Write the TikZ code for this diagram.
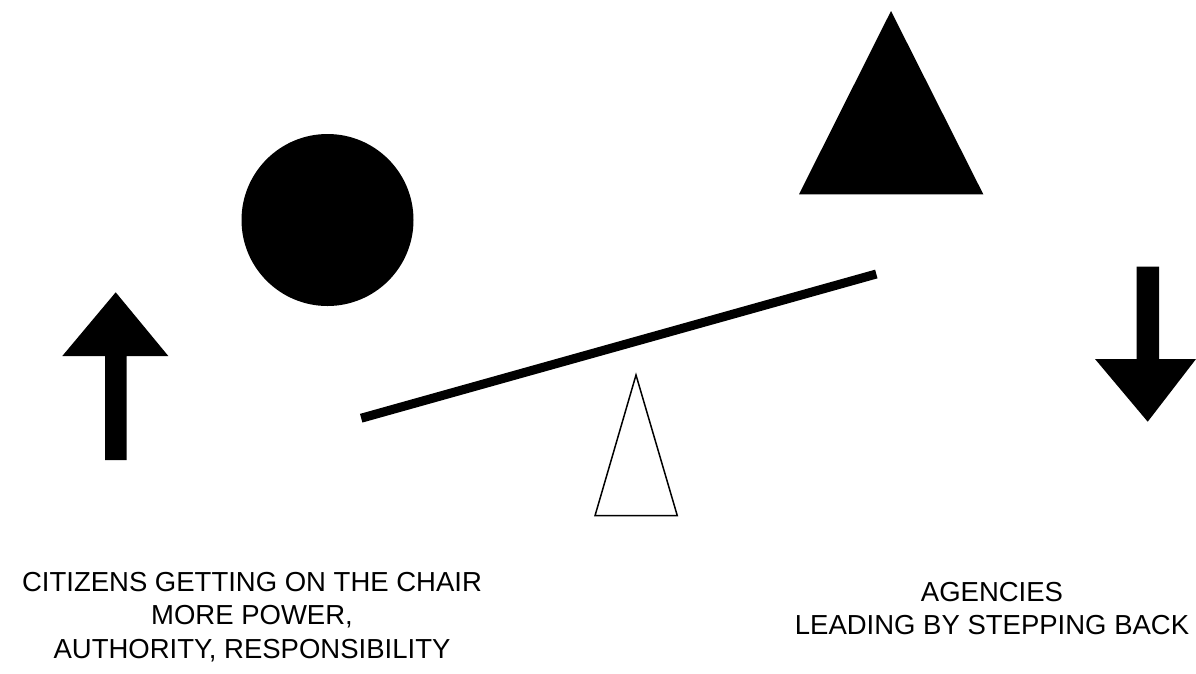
\documentclass[tikz,border=0pt]{standalone}
\usepackage{fontspec}
\setmainfont{Liberation Sans}
\begin{document}
\begin{tikzpicture}[x=1pt,y=-1pt,
  solid shape/.style={fill=black,draw=none},
  outline shape/.style={draw=black,line width=1.5pt,fill=white,line join=miter},
  caption/.style={align=center,font=\fontsize{27.5}{33.5}\selectfont,inner sep=0pt}]
\useasboundingbox[fill=white] (0,0) rectangle (1196,673);
% up arrow
\fill[solid shape] (115.7,292.3) -- (168.3,356) -- (126.7,356) -- (126.7,460) -- (105,460) -- (105,356) -- (62.3,356) -- cycle;
% down arrow
\fill[solid shape] (1136.7,266.7) -- (1159,266.7) -- (1159,359) -- (1196,359) -- (1147.7,421.7) -- (1095,359) -- (1136.7,359) -- cycle;
% circle
\fill[solid shape] (327.5,220) circle[radius=86];
% big triangle
\fill[solid shape] (891,11) -- (983.3,194.3) -- (799,194.3) -- cycle;
% fulcrum
\draw[outline shape] (636,375) -- (677.3,515.7) -- (595,515.7) -- cycle;
% beam
\coordinate (bl) at (361.2,418.2);
\coordinate (br) at (876.3,274);
\draw[line width=9pt,line cap=butt] (bl) -- (br);
% captions
\node[caption] (left) at (252,617) {CITIZENS GETTING ON THE CHAIR\\MORE POWER,\\AUTHORITY, RESPONSIBILITY};
\node[caption] (right) at (992,608.5) {AGENCIES\\LEADING BY STEPPING BACK};
\end{tikzpicture}
\end{document}
